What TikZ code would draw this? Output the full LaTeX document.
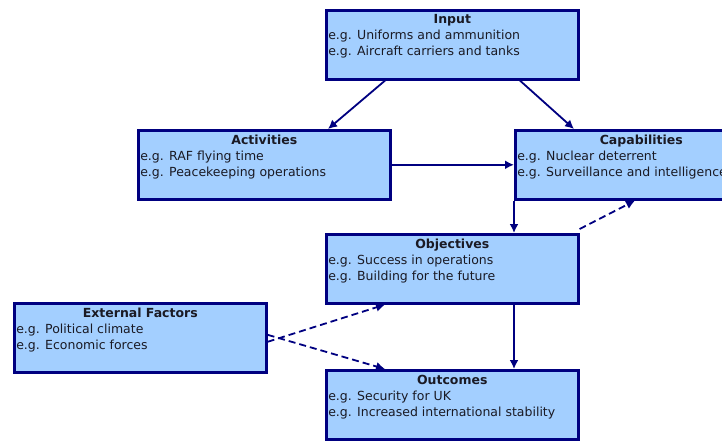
\documentclass[tikz,border=0pt]{standalone}
\usepackage{fontspec}
\setmainfont{DejaVu Sans}
\usetikzlibrary{arrows.meta}
\definecolor{boxfill}{HTML}{A3CFFF}
\definecolor{boxline}{HTML}{000080}
\definecolor{boxtext}{HTML}{1A1A24}
\newcommand{\blocktext}[3]{\parbox[t][60pt][t]{248pt}{\fontsize{12.5}{16}\selectfont
  {\centering\textbf{#1}\par}\raggedright #2\\#3}}
\tikzset{
  block/.style={draw=boxline, fill=boxfill, text=boxtext, line width=2.6pt,
    anchor=north west, inner xsep=2pt, inner ysep=4pt,
    minimum width=252pt, minimum height=69pt},
  link/.style={draw=boxline, line width=1.8pt, -{Latex[length=9pt,width=9pt]}},
  extlink/.style={link, dash pattern=on 7pt off 4pt}
}
\begin{document}
\begin{tikzpicture}[x=1pt,y=-1pt]
  \useasboundingbox (0,0) rectangle (722,440);
  \clip (0,0) rectangle (722,440);
  \draw
    (325,9) node[block] (input){\blocktext{Input}{e.g. Uniforms and ammunition}{e.g. Aircraft carriers and tanks}}
    (137,129) node[block] (activities){\blocktext{Activities}{e.g. RAF flying time}{e.g. Peacekeeping operations}}
    (514,129) node[block] (capabilities){\blocktext{Capabilities}{e.g. Nuclear deterrent}{e.g. Surveillance and intelligence}}
    (325,233) node[block] (objectives){\blocktext{Objectives}{e.g. Success in operations}{e.g. Building for the future}}
    (13,302) node[block] (external){\blocktext{External Factors}{e.g. Political climate}{e.g. Economic forces}}
    (325,369) node[block] (outcomes){\blocktext{Outcomes}{e.g. Security for UK}{e.g. Increased international stability}};
  \begin{scope}[link]
    \draw ([xshift=60pt]input.south west) to ([xshift=191pt]activities.north west);
    \draw ([xshift=195pt]input.south west) to ([xshift=60pt]capabilities.north west);
    \draw (activities.east) to (activities.east -| capabilities.west);
    \draw (capabilities.south west) to (capabilities.south west |- objectives.north);
    \draw ([xshift=189pt]objectives.south west) to ([xshift=189pt]outcomes.north west);
  \end{scope}
  \begin{scope}[extlink]
    \draw ([yshift=4pt]objectives.north east) to ([xshift=121pt]capabilities.south west);
    \draw ([yshift=-4pt]external.east) to ([xshift=60pt]objectives.south west);
    \draw ([yshift=3pt]external.east) to ([xshift=60pt]outcomes.north west);
  \end{scope}
\end{tikzpicture}
\end{document}
